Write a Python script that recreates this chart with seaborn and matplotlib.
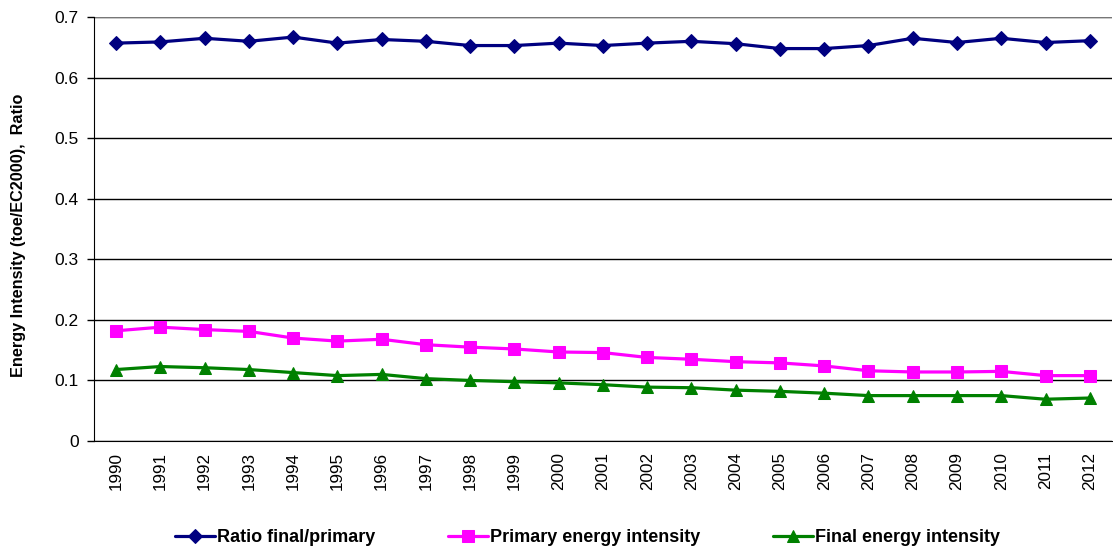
import matplotlib
matplotlib.use("Agg")
import matplotlib.pyplot as plt
import seaborn as sns
import pandas as pd
import numpy as np

years = [str(y) for y in range(1990, 2013)]

ratio_final_primary = [0.657, 0.659, 0.665, 0.660, 0.667, 0.657, 0.663, 0.660, 0.653, 0.653,
                       0.657, 0.653, 0.657, 0.660, 0.656, 0.648, 0.648, 0.653, 0.665, 0.658,
                       0.665, 0.658, 0.661]
primary_intensity = [0.182, 0.188, 0.184, 0.181, 0.170, 0.165, 0.168, 0.159, 0.155, 0.152,
                     0.147, 0.146, 0.138, 0.135, 0.131, 0.129, 0.124, 0.116, 0.114, 0.114,
                     0.115, 0.108, 0.108]
final_intensity = [0.118, 0.123, 0.121, 0.118, 0.113, 0.108, 0.110, 0.103, 0.100, 0.098,
                   0.096, 0.093, 0.089, 0.088, 0.084, 0.082, 0.079, 0.075, 0.075, 0.075,
                   0.075, 0.069, 0.071]

series_names = ["Ratio final/primary", "Primary energy intensity", "Final energy intensity"]
series_values = [ratio_final_primary, primary_intensity, final_intensity]
colors = ["#000080", "#FF00FF", "#008000"]
markers = ["D", "s", "^"]
marker_sizes = [7, 9, 8.5]

rows = []
for name, vals in zip(series_names, series_values):
    for i, v in enumerate(vals):
        rows.append({"idx": i, "year": years[i], "value": v, "series": name})
df = pd.DataFrame(rows)

sns.set_style("white")
plt.rcParams["font.family"] = ["Liberation Sans", "DejaVu Sans"]
plt.rcParams["text.color"] = "black"
plt.rcParams["axes.labelcolor"] = "black"
plt.rcParams["xtick.color"] = "black"
plt.rcParams["ytick.color"] = "black"

fig = plt.figure(figsize=(11.13, 5.51), dpi=100)
ax = fig.add_axes([0.0845, 0.1996, 0.9145, 0.7694])

for name, col, mk, ms in zip(series_names, colors, markers, marker_sizes):
    sub = df[df["series"] == name]
    sns.lineplot(data=sub, x="idx", y="value", ax=ax, color=col, marker=mk,
                 markersize=ms, markeredgecolor=col, linewidth=2.3, label=name,
                 legend=False, zorder=3)

ax.set_xlim(-0.5, len(years) - 0.5)
ax.set_ylim(0, 0.7)
ax.set_yticks(np.arange(0, 0.71, 0.1))
ax.set_yticklabels(["0", "0.1", "0.2", "0.3", "0.4", "0.5", "0.6", "0.7"], fontsize=12.5)
ax.yaxis.grid(True, color="black", linewidth=1.0)
ax.set_axisbelow(True)

ax.set_xticks(range(len(years)))
ax.set_xticklabels(years, rotation=90, fontsize=12.3)
ax.set_xticks(np.arange(-0.5, len(years), 1.0), minor=True)
ax.tick_params(axis="x", which="major", length=0, pad=8)
ax.tick_params(axis="x", which="minor", length=5, width=1, color="black", direction="out")
ax.tick_params(axis="y", length=5, width=1, color="black", direction="out", pad=6)
ax.tick_params(axis="both", colors="black", bottom=True, left=True)

ax.set_xlabel("")
ax.set_ylabel("Energy Intensity (toe/EC2000),  Ratio", fontsize=11.7, fontweight="bold",
              color="black")
ax.yaxis.set_label_coords(-0.0668, 0.486)

for side in ["top", "right"]:
    ax.spines[side].set_visible(False)
ax.spines["left"].set_color("black")
ax.spines["bottom"].set_color("black")
ax.axhline(0.7, color="#777777", linewidth=1.5, zorder=1)

handles, labels = ax.get_legend_handles_labels()
leg = fig.legend(handles, labels, loc="center", bbox_to_anchor=(0.528, 0.0236), ncol=3,
                 frameon=False, columnspacing=4.0, handlelength=2.2,
                 handletextpad=0.15, prop={"weight": "bold", "size": 13})
for t in leg.get_texts():
    t.set_color("black")

fig.savefig("out.png", dpi=100, facecolor="white")
